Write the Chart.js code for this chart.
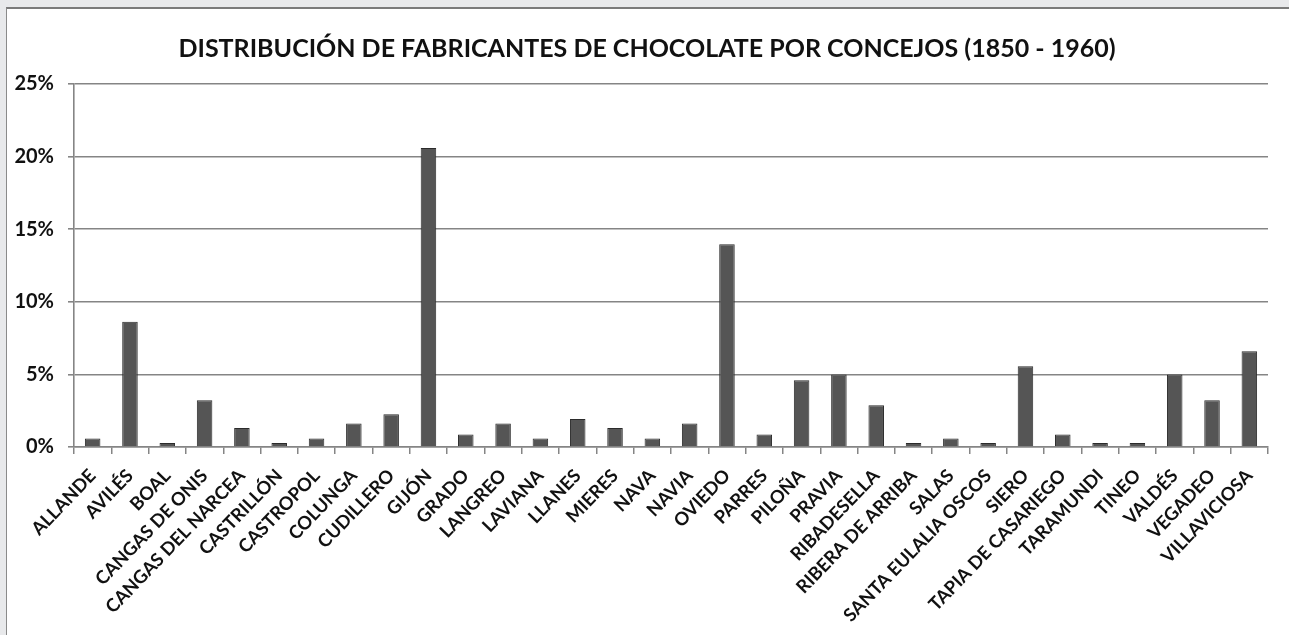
<!DOCTYPE html>
<html>
<head>
<meta charset="utf-8">
<script src="https://cdn.jsdelivr.net/npm/chart.js@4.4.1/dist/chart.umd.min.js"></script>
<style>
  html, body { margin: 0; padding: 0; width: 1289px; height: 635px; overflow: hidden; background: #e8e9eb; }
  #panel { position: absolute; left: 6px; top: 7px; width: 1283px; height: 628px; background: #ffffff;
           border-left: 1.5px solid #8a8a8a; border-top: 2px solid #7a7a7a; box-sizing: border-box; }
  #wrap { position: absolute; left: 0; top: 0; width: 1289px; height: 635px; }
  #title { position: absolute; left: 0; top: 32px; width: 1294px; text-align: center; white-space: nowrap;
           font-family: Lato, "Open Sans", "DejaVu Sans", sans-serif; font-weight: bold; font-size: 25px;
           line-height: 30px; color: #111; margin: 0; }
</style>
</head>
<body>
<div id="panel"></div>
<div id="wrap"><canvas id="c" width="1289" height="635"></canvas></div>
<h1 id="title"></h1>
<script>
const titleText = 'DISTRIBUCIÓN DE FABRICANTES DE CHOCOLATE POR CONCEJOS (1850 - 1960)';
const categories = ['ALLANDE','AVILÉS','BOAL','CANGAS DE ONIS','CANGAS DEL NARCEA','CASTRILLÓN','CASTROPOL','COLUNGA','CUDILLERO','GIJÓN','GRADO','LANGREO','LAVIANA','LLANES','MIERES','NAVA','NAVIA','OVIEDO','PARRES','PILOÑA','PRAVIA','RIBADESELLA','RIBERA DE ARRIBA','SALAS','SANTA EULALIA OSCOS','SIERO','TAPIA DE CASARIEGO','TARAMUNDI','TINEO','VALDÉS','VEGADEO','VILLAVICIOSA'];
const shares = [0.58, 8.62, 0.27, 3.22, 1.31, 0.27, 0.58, 1.61, 2.25, 20.6, 0.86, 1.61, 0.58, 1.93, 1.31, 0.58, 1.61, 13.96, 0.86, 4.6, 4.99, 2.87, 0.27, 0.58, 0.27, 5.56, 0.86, 0.27, 0.27, 4.99, 3.22, 6.6];
const yTicks = [0, 5, 10, 15, 20, 25];

const FONT = 'Lato, "Open Sans", "DejaVu Sans", sans-serif';
document.getElementById('title').textContent = titleText;

new Chart(document.getElementById('c'), {
  type: 'bar',
  data: {
    labels: categories,
    datasets: [{
      data: shares,
      backgroundColor: '#555555',
      borderColor: '#2b2b2b',
      borderWidth: 1,
      categoryPercentage: 0.8,
      barPercentage: 0.52
    }]
  },
  options: {
    responsive: false,
    animation: false,
    layout: { padding: { left: 0, right: 21, top: 84, bottom: 0 } },
    plugins: {
      legend: { display: false },
      tooltip: { enabled: false },
      title: { display: false }
    },
    scales: {
      x: {
        grid: { display: true, drawOnChartArea: false, drawTicks: true, tickLength: 7, color: '#858585', lineWidth: 1.5, offset: true },
        border: { color: '#858585', width: 1.5 },
        ticks: {
          autoSkip: false, minRotation: 46, maxRotation: 46, padding: 11,
          color: '#111', font: { family: FONT, size: 18.3, weight: 'bold' }
        },
        afterFit: (s) => { s.height = 188; }
      },
      y: {
        min: 0, max: 25,
        afterBuildTicks: (s) => { s.ticks = yTicks.map(v => ({ value: v })); },
        grid: { color: '#858585', lineWidth: 1.6, tickLength: 6, drawTicks: true },
        border: { color: '#858585', width: 1.6 },
        ticks: {
          padding: 14,
          color: '#111', font: { family: FONT, size: 20, weight: 'bold' },
          callback: (v) => v + '%'
        },
        afterFit: (s) => { s.width = 74; }
      }
    }
  }
});
</script>
</body>
</html>
